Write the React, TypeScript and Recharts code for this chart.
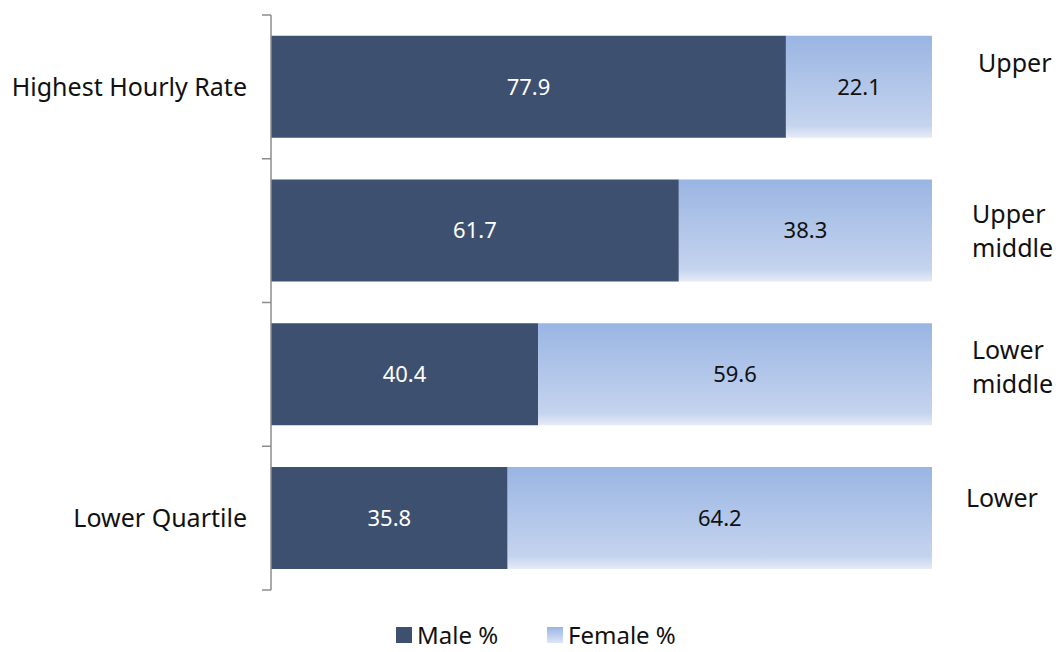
import { BarChart, Bar, XAxis, YAxis, LabelList } from "recharts";

const quartiles = ["Upper", "Upper middle", "Lower middle", "Lower"];
const leftLabels = ["Highest Hourly Rate", "", "", "Lower Quartile"];
const malePct = [77.9, 61.7, 40.4, 35.8];
const femalePct = [22.1, 38.3, 59.6, 64.2];

const data = quartiles.map((q, i) => ({
  quartile: q,
  male: malePct[i],
  female: femalePct[i],
}));

const W = 1060;
const H = 652;
const TOP = 15;
const BOTTOM = 62;
const BAND = (H - TOP - BOTTOM) / quartiles.length;
const FONT = "'Noto Sans', sans-serif";
const MALE = "#3e5070";
const AXIS = "#8c8c8c";
const AXIS_X = 271;

// nudges so the right-side labels sit where the original text boxes were
const rightNudge = [-24, 0, -7, -20];

function LeftTick(props: any) {
  const { y, payload, index } = props;
  const label = leftLabels[index] ?? "";
  const top = y - BAND / 2;
  return (
    <g>
      <line x1={AXIS_X - 9} x2={AXIS_X} y1={top} y2={top} stroke={AXIS} strokeWidth={1.5} />
      {index === quartiles.length - 1 && (
        <line x1={AXIS_X - 9} x2={AXIS_X} y1={top + BAND} y2={top + BAND} stroke={AXIS} strokeWidth={1.5} />
      )}
      <text x={247} y={y} dy={9} textAnchor="end" fontSize={25} fill="#111" fontFamily={FONT}>
        {label}
      </text>
      <title>{payload.value}</title>
    </g>
  );
}

function RightTick(props: any) {
  const { y, payload, index } = props;
  const words = String(payload.value).split(" ");
  const lineH = 34;
  const start = y + (rightNudge[index] ?? 0) - ((words.length - 1) * lineH) / 2;
  const x = words.length > 1 ? 972 : index === 3 ? 966 : 978;
  return (
    <text x={x} y={start} textAnchor="start" fontSize={25} fill="#111" fontFamily={FONT}>
      {words.map((w, i) => (
        <tspan key={i} x={x} dy={i === 0 ? 9 : lineH}>
          {w}
        </tspan>
      ))}
    </text>
  );
}

function LegendItem({ left, swatch, text }: { left: number; swatch: string; text: string }) {
  return (
    <span style={{ position: "absolute", left, top: 0, display: "flex", alignItems: "center", height: 30 }}>
      <span style={{ width: 16, height: 16, background: swatch, marginRight: 5 }} />
      {text}
    </span>
  );
}

function LegendRow() {
  return (
    <div
      style={{
        position: "absolute",
        left: 0,
        top: 620,
        width: W,
        height: 30,
        lineHeight: "30px",
        fontFamily: FONT,
        fontSize: 24,
        color: "#111",
      }}
    >
      <LegendItem left={396} swatch={MALE} text="Male %" />
      <LegendItem left={547} swatch="linear-gradient(#9ab5e3, #dde5f5)" text="Female %" />
    </div>
  );
}

export default function App() {
  return (
    <div style={{ position: "absolute", left: 0, top: 0, width: W, height: H, background: "#fff" }}>
      <BarChart
        width={W}
        height={H}
        data={data}
        layout="vertical"
        barCategoryGap="14.5%"
        margin={{ top: TOP, right: 0, bottom: BOTTOM, left: 0 }}
      >
        <defs>
          <linearGradient id="femaleFill" x1="0" y1="0" x2="0" y2="1">
            <stop offset="0%" stopColor="#9ab5e3" />
            <stop offset="88%" stopColor="#c5d4ee" />
            <stop offset="100%" stopColor="#e6ecf7" />
          </linearGradient>
        </defs>
        <XAxis type="number" domain={[0, 100]} hide />
        <YAxis
          yAxisId="left"
          type="category"
          dataKey="quartile"
          width={AXIS_X}
          axisLine={{ stroke: AXIS, strokeWidth: 1.5 }}
          tickLine={false}
          tick={<LeftTick />}
          interval={0}
        />
        <YAxis
          yAxisId="right"
          orientation="right"
          type="category"
          dataKey="quartile"
          width={128}
          axisLine={false}
          tickLine={false}
          tick={<RightTick />}
          interval={0}
        />
        <Bar dataKey="male" stackId="a" yAxisId="left" fill={MALE} isAnimationActive={false}>
          <LabelList dataKey="male" position="center" fill="#fff" fontSize={22} fontFamily={FONT} />
        </Bar>
        <Bar dataKey="female" stackId="a" yAxisId="left" fill="url(#femaleFill)" isAnimationActive={false}>
          <LabelList dataKey="female" position="center" fill="#111" fontSize={22} fontFamily={FONT} />
        </Bar>
      </BarChart>
      <LegendRow />
    </div>
  );
}
